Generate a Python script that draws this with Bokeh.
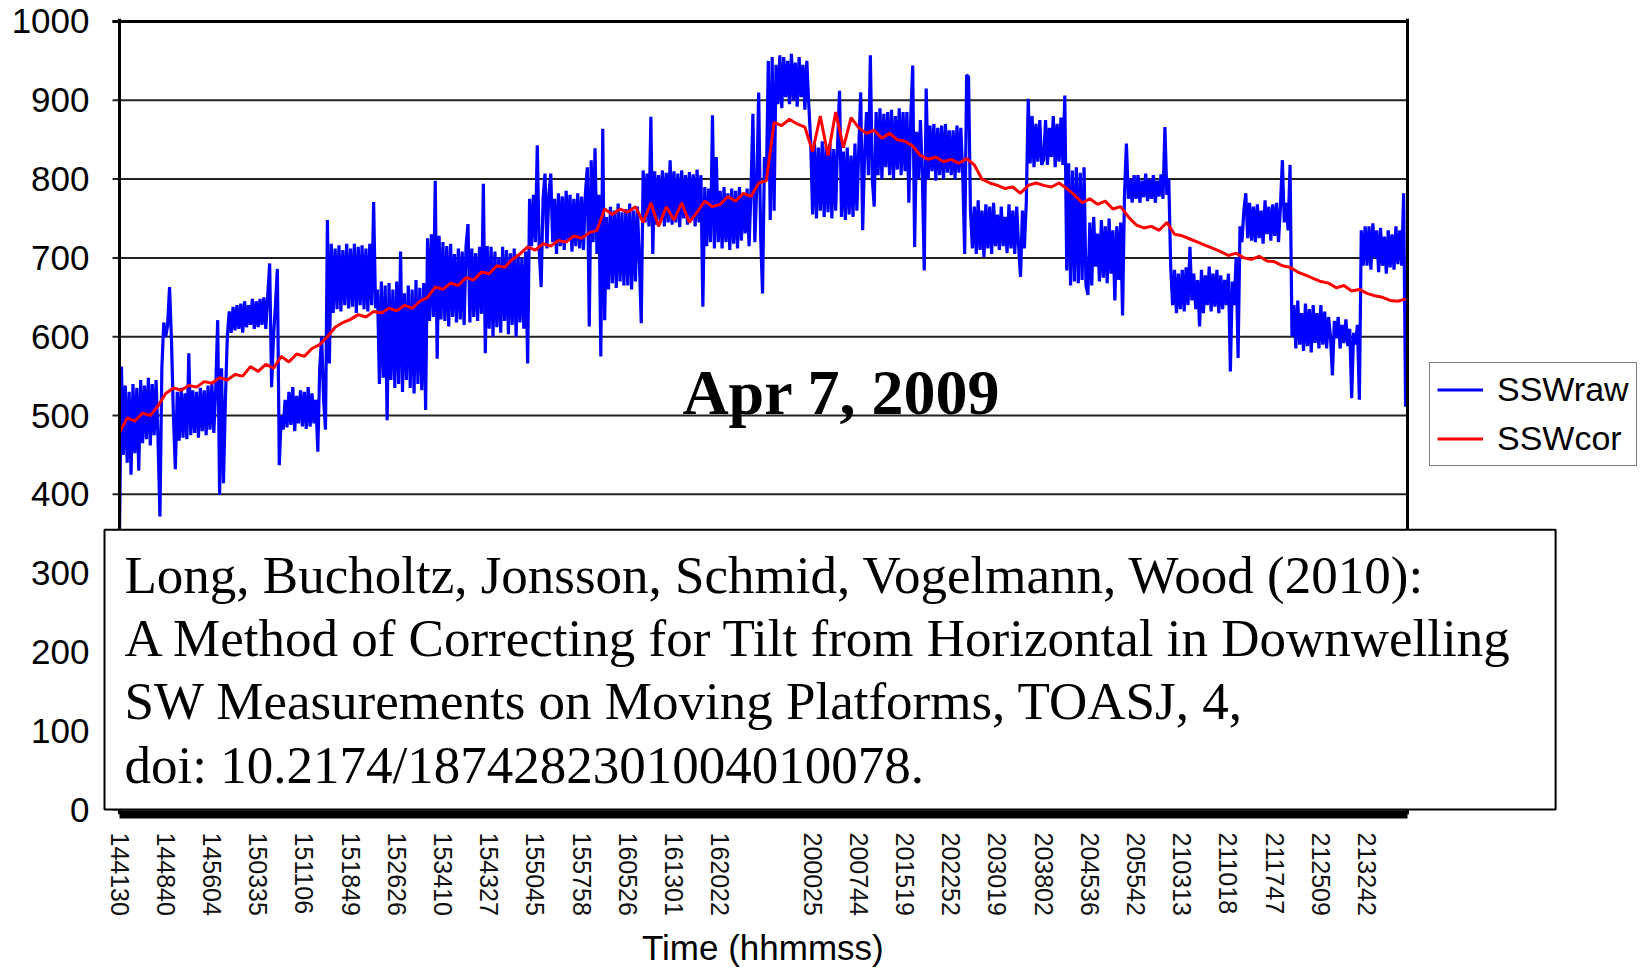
from bokeh.plotting import figure
from bokeh.models import Range1d, FixedTicker, Label, Legend, LegendItem, Span, Title
from bokeh.embed import file_html
from bokeh.resources import INLINE
import numpy as np

# ---------------- data ----------------
time_labels = ["144130", "144840", "145604", "150335", "151106", "151849", "152626",
               "153410", "154327", "155045", "155758", "160526", "161301", "162022",
               "", "200025", "200744", "201519", "202252", "203019", "203802",
               "204536", "205542", "210313", "211018", "211747", "212509", "213242"]
samples_per_label = 24
y_ticks = list(range(0, 1001, 100))

# raw downwelling SW, W/m2 (24 samples per label interval)
ssw_raw = [
    350, 562, 450, 538, 440, 530, 425, 540, 452, 535, 430, 545, 465, 538, 470, 548, 462, 540, 475, 545, 470, 372, 560, 618,
    600, 615, 663, 595, 500, 432, 530, 468, 535, 472, 528, 470, 579, 475, 532, 478, 530, 472, 535, 480, 532, 475, 538, 482,
    540, 478, 535, 621, 399, 560, 414, 520, 600, 632, 605, 638, 608, 640, 610, 642, 605, 645, 612, 640, 615, 648, 610, 645,
    612, 648, 615, 650, 610, 652, 693, 536, 600, 640, 686, 437, 500, 482, 520, 485, 530, 488, 536, 480, 525, 490, 532, 486,
    530, 483, 536, 486, 528, 490, 520, 454, 560, 600, 520, 482, 748, 566, 718, 630, 712, 635, 716, 632, 710, 640, 718, 636,
    712, 638, 718, 630, 714, 640, 716, 635, 712, 632, 718, 640, 771, 636, 660, 540, 670, 548, 665, 494, 668, 545, 660, 535,
    670, 540, 708, 530, 655, 545, 665, 535, 660, 528, 672, 540, 662, 532, 668, 507, 725, 620, 730, 625, 798, 572, 728, 622,
    720, 620, 715, 613, 718, 625, 705, 618, 712, 622, 708, 615, 715, 743, 618, 712, 625, 706, 620, 714, 629, 794, 579, 715,
    610, 714, 600, 708, 612, 701, 605, 714, 620, 710, 603, 706, 615, 712, 600, 705, 618, 700, 610, 708, 566, 775, 715, 780,
    720, 843, 710, 663, 775, 807, 712, 780, 807, 720, 775, 705, 782, 715, 778, 710, 785, 722, 780, 708, 775, 715, 782, 712,
    778, 710, 782, 815, 613, 824, 720, 839, 705, 780, 575, 864, 621, 752, 660, 765, 668, 760, 662, 769, 670, 758, 665, 762,
    665, 769, 660, 760, 670, 765, 697, 617, 811, 745, 807, 740, 879, 705, 810, 742, 805, 748, 811, 740, 808, 745, 824, 742,
    810, 745, 807, 739, 811, 750, 805, 742, 809, 748, 806, 740, 812, 745, 805, 638, 790, 715, 788, 720, 881, 712, 828, 720,
    785, 712, 790, 720, 782, 710, 788, 718, 785, 712, 790, 722, 782, 731, 788, 715, 785, 883, 720, 790, 910, 730, 655, 828,
    798, 950, 748, 955, 760, 945, 895, 957, 890, 955, 904, 950, 895, 959, 900, 948, 892, 955, 904, 945, 888, 950, 895, 849,
    755, 845, 750, 840, 760, 848, 752, 842, 758, 845, 750, 838, 760, 845, 912, 752, 835, 748, 840, 755, 830, 752, 845, 760,
    840, 910, 735, 830, 885, 805, 957, 800, 765, 885, 805, 890, 800, 883, 815, 885, 805, 888, 800, 880, 812, 890, 805, 885,
    810, 885, 770, 880, 944, 714, 860, 800, 875, 805, 684, 915, 800, 868, 810, 870, 798, 865, 805, 868, 800, 870, 808, 862,
    805, 862, 800, 868, 808, 865, 805, 705, 932, 930, 760, 712, 765, 705, 773, 710, 760, 701, 768, 712, 765, 705, 770, 715,
    755, 710, 765, 715, 752, 706, 768, 712, 760, 705, 765, 715, 676, 760, 712, 770, 902, 820, 880, 815, 870, 822, 875, 818,
    825, 875, 818, 865, 828, 880, 815, 870, 822, 878, 818, 906, 684, 820, 665, 811, 670, 815, 668, 808, 672, 815, 665, 653,
    745, 665, 752, 689, 731, 670, 748, 675, 740, 668, 750, 680, 735, 646, 740, 672, 745, 627, 780, 845, 775, 800, 770, 805,
    775, 805, 770, 798, 777, 807, 772, 800, 775, 805, 770, 798, 778, 806, 775, 866, 780, 800, 689, 640, 685, 630, 680, 635,
    685, 632, 688, 640, 714, 646, 680, 635, 672, 613, 685, 630, 678, 640, 689, 632, 680, 638, 685, 630, 678, 635, 672, 640,
    680, 556, 670, 640, 700, 573, 740, 720, 760, 782, 725, 770, 722, 765, 720, 768, 725, 760, 718, 773, 730, 765, 722, 768,
    728, 770, 720, 765, 824, 745, 770, 735, 818, 600, 640, 585, 646, 590, 630, 582, 642, 588, 635, 580, 640, 592, 630, 585,
    640, 590, 632, 585, 625, 600, 551, 620, 598, 625, 585, 615, 592, 622, 588, 610, 522, 605, 590, 615, 520, 735, 690, 740,
    690, 740, 685, 744, 700, 735, 682, 738, 690, 727, 680, 735, 688, 730, 685, 740, 692, 735, 690, 782, 511, 640,
]

# tilt-corrected SW, W/m2 (one value every 4 samples)
ssw_cor = [
    478, 497, 493, 503, 500, 512,
    528, 535, 532, 538, 536, 543,
    541, 548, 545, 552, 550, 562,
    556, 565, 560, 575, 568, 578,
    575, 585, 590, 600, 612, 618,
    622, 628, 625, 632, 630, 636,
    633, 640, 636, 645, 650, 663,
    660, 668, 665, 675, 672, 682,
    680, 690, 688, 698, 705, 714,
    710, 718, 715, 722, 720, 728,
    725, 732, 735, 762, 755, 762,
    758, 765, 745, 770, 740, 765,
    748, 770, 745, 758, 772, 765,
    768, 778, 772, 782, 778, 795,
    798, 872, 868, 876, 870, 866,
    835, 880, 830, 885, 840, 878,
    865, 858, 862, 852, 858, 850,
    848, 842, 830, 825, 828, 822,
    825, 820, 826, 818, 800, 795,
    792, 788, 790, 782, 792, 795,
    792, 790, 795, 788, 780, 770,
    775, 768, 772, 762, 765, 752,
    742, 738, 740, 735, 745, 730,
    728, 724, 720, 716, 712, 708,
    703, 706, 700, 698, 702, 696,
    695, 690, 688, 682, 678, 674,
    670, 668, 662, 665, 658, 660,
    655, 652, 650, 646, 645, 648,
]

citation = ("Long, Bucholtz, Jonsson, Schmid, Vogelmann, Wood (2010):\n"
            "A Method of Correcting for Tilt from Horizontal in Downwelling\n"
            "SW Measurements on Moving Platforms, TOASJ, 4,\n"
            "doi: 10.2174/1874282301004010078.")
date_text = "Apr 7, 2009"
x_title = "Time (hhmmss)"

# ---------------- geometry (pixels) ----------------
W, H = 1647, 973
frame_l, frame_r, frame_t, frame_b = 100, 1642, 18, 815
plot_l, plot_r = 119, 1407            # data area inside the frame
y_top_px, y_zero_px = 21, 810         # pixel rows of 1000 and 0

raw_x = np.arange(len(ssw_raw))
cor_x = np.arange(len(ssw_cor)) * 4
x_last = len(ssw_raw) - 1
px_per_x = (plot_r - plot_l) / x_last
px_per_y = (y_zero_px - y_top_px) / 1000.0


def xd(px):
    return (px - plot_l) / px_per_x


def yd(py):
    return (y_zero_px - py) / px_per_y


p = figure(width=W, height=H, output_backend="svg", toolbar_location=None,
           x_range=Range1d(xd(frame_l), xd(frame_r)),
           y_range=Range1d(yd(frame_b), yd(frame_t)),
           min_border_left=frame_l, min_border_right=W - frame_r,
           min_border_top=frame_t, min_border_bottom=H - frame_b)
p.background_fill_color = "white"
p.border_fill_color = "white"
p.outline_line_color = None
p.xgrid.grid_line_color = None
p.ygrid.grid_line_color = None

# horizontal grid lines (with their short outer ticks) across the data area
n = len(y_ticks)
p.segment(x0=[xd(plot_l - 7)] * n, y0=y_ticks, x1=[x_last] * n, y1=y_ticks,
          line_color="#222222", line_width=2)
p.segment(x0=[xd(plot_l - 7)], y0=[y_ticks[-1]], x1=[x_last], y1=[y_ticks[-1]],
          line_color="black", line_width=3)
p.add_layout(Span(location=0, dimension="height", line_color="black", line_width=3))
p.add_layout(Span(location=x_last, dimension="height", line_color="black", line_width=3))

r_raw = p.line(raw_x, ssw_raw, line_color="#0000FF", line_width=3.2)
r_cor = p.line(cor_x, ssw_cor, line_color="#FF0000", line_width=3)

# y axis (labels only)
p.yaxis.ticker = FixedTicker(ticks=y_ticks)
p.yaxis.major_label_text_font = "Liberation Sans"
p.yaxis.major_label_text_font_size = "35px"
p.yaxis.major_label_text_color = "black"
p.yaxis.major_tick_line_color = None
p.yaxis.minor_tick_line_color = None
p.yaxis.major_tick_out = 0
p.yaxis.major_tick_in = 0
p.yaxis.axis_line_color = None
p.yaxis.major_label_standoff = 11

# x axis
tick_pos = [i * samples_per_label for i, lab in enumerate(time_labels) if lab]
p.xaxis.ticker = FixedTicker(ticks=tick_pos)
p.xaxis.major_label_overrides = {i * samples_per_label: lab
                                 for i, lab in enumerate(time_labels) if lab}
p.xaxis.bounds = (0, x_last)
p.xaxis.major_label_orientation = "vertical"
p.xaxis.major_label_text_font = "Liberation Sans"
p.xaxis.major_label_text_font_size = "25px"
p.xaxis.major_label_text_color = "#111111"
p.xaxis.major_tick_line_color = None
p.xaxis.minor_tick_line_color = None
p.xaxis.major_tick_out = 0
p.xaxis.major_tick_in = 0
p.xaxis.major_label_standoff = 18
p.xaxis.axis_line_width = 8
p.xaxis.axis_line_color = "black"

# x axis title, centred under the data area
title_w = 243
p.add_layout(Title(text=x_title, align="left",
                   offset=(plot_l + plot_r) / 2 - title_w / 2 - frame_l,
                   text_font="Liberation Sans", text_font_size="35px",
                   text_font_style="normal", text_color="black", standoff=14),
             "below")

# date label
p.add_layout(Label(x=xd(841), y=yd(392), text=date_text, text_font="Liberation Serif",
                   text_font_size="64px", text_font_style="bold", text_color="black",
                   text_align="center", text_baseline="alphabetic"))

# citation box
p.add_layout(Label(x=xd(104), y=yd(530), text=citation, text_font="Liberation Serif",
                   text_font_size="53px", text_color="black",
                   text_align="left", text_baseline="top", text_line_height=1.09,
                   background_fill_color="white", background_fill_alpha=1.0,
                   border_line_color="black", border_line_width=2,
                   padding=dict(left=20, right=42, top=16, bottom=16)))

# legend
legend = Legend(items=[LegendItem(label="SSWraw", renderers=[r_raw]),
                       LegendItem(label="SSWcor", renderers=[r_cor])],
                location=(1429 - frame_l, frame_b - 467), margin=0, padding=7,
                spacing=10, glyph_width=46, glyph_height=39, label_height=39,
                label_standoff=14,
                label_text_font="Liberation Sans", label_text_font_size="34px",
                label_text_color="black",
                border_line_color="black", border_line_width=1.5,
                background_fill_color="white", background_fill_alpha=1.0)
p.add_layout(legend, "center")

open("out.html", "w").write(file_html(p, INLINE))
